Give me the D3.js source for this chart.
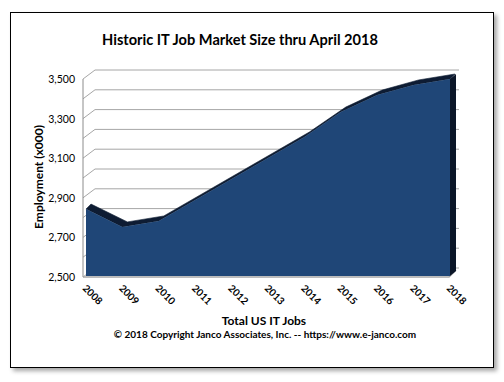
<!DOCTYPE html>
<html><head><meta charset="utf-8">
<script src="https://cdnjs.cloudflare.com/ajax/libs/d3/7.8.5/d3.min.js"></script>
<style>
html,body{margin:0;padding:0;background:#fff;}
svg{display:block;}
text{font-family:Lato,"Open Sans",sans-serif;fill:#000;}
</style></head><body>
<svg id="c" width="504" height="382"></svg>
<script>
const years = ["2008","2009","2010","2011","2012","2013","2014","2015","2016","2017","2018"];
const jobs = [2843, 2753, 2783, 2889, 2995, 3101, 3207, 3333, 3419, 3470, 3500];
const yTicks = [2500, 2700, 2900, 3100, 3300, 3500];
const gridValues = [2500, 2600, 2700, 2800, 2900, 3000, 3100, 3200, 3300, 3400, 3500];
const title = "Historic IT Job Market Size thru April 2018";
const yTitle = "Employment  (x000)";
const xTitle = "Total US IT Jobs";
const credit = "\u00A9 2018 Copyright Janco Associates, Inc. -- https://www.e-janco.com";

const svg = d3.select("#c");
const defs = svg.append("defs");
const f = defs.append("filter").attr("id","sh").attr("x","-5%").attr("y","-5%").attr("width","115%").attr("height","115%");
f.append("feDropShadow").attr("dx",3).attr("dy",3).attr("stdDeviation",2).attr("flood-color","#000").attr("flood-opacity",0.35);

svg.append("rect").attr("x",10.5).attr("y",12.5).attr("width",483).attr("height",355)
  .attr("fill","#fff").attr("stroke","#000").attr("stroke-width",1).attr("filter","url(#sh)");

// scales
const y = d3.scaleLinear().domain([2500,3500]).range([277,79]);
const x = d3.scalePoint().domain(years).range([86,450]);
const wallDX = 12, wallDY = -9;
const axX = 83;
const slabD = 5;

// back wall gridlines
const g = svg.append("g");
g.selectAll("line.grid").data(gridValues).join("line")
  .attr("x1", axX + wallDX).attr("x2", 459)
  .attr("y1", d => y(d) + wallDY).attr("y2", d => y(d) + wallDY)
  .attr("stroke","#a6a6a6").attr("stroke-width",1);
// side wall diagonals
g.selectAll("line.diag").data(gridValues).join("line")
  .attr("x1", axX).attr("y1", d => y(d))
  .attr("x2", axX + wallDX).attr("y2", d => y(d) + wallDY)
  .attr("stroke","#a6a6a6").attr("stroke-width",1);
// front axis vertical
g.append("line").attr("x1",axX).attr("x2",axX).attr("y1",y(3500)).attr("y2",y(2500))
  .attr("stroke","#8c8c8c").attr("stroke-width",1);
// floor front edge
g.append("path")
  .attr("d", `M${axX},${y(2500)}L${x("2018")-1},${y(2500)}L${x("2018")+6},${y(2500)-7}`)
  .attr("fill","none").attr("stroke","#a6a6a6").attr("stroke-width",1.5);

// area slab
const pts = years.map((yr,i) => [x(yr), y(jobs[i])]);
const bottom = y(2500) - 1;
// top surface
const topPoly = pts.concat(pts.slice().reverse().map(p => [p[0]+slabD, p[1]-slabD]));
svg.append("path").attr("d", d3.line()(topPoly) + "Z").attr("fill","#0e1c33").attr("stroke","#0e1c33").attr("stroke-width",0.6);
// right side face
const last = pts[pts.length-1];
svg.append("path").attr("d", d3.line()([[last[0], last[1]],[last[0]+slabD+1, last[1]-slabD],[last[0]+slabD+1, bottom-slabD],[last[0], bottom]]) + "Z")
  .attr("fill","#0b1628");
// front face
const area = d3.area().x(d => d[0]).y0(bottom).y1(d => d[1]);
svg.append("path").attr("d", area(pts)).attr("fill","#1f4677");

// y tick labels
svg.selectAll("text.yt").data(yTicks).join("text")
  .attr("x", 75).attr("y", d => y(d) + 4)
  .attr("text-anchor","end").attr("font-size","10.5px")
  .text(d => d3.format(",")(d));

// x tick labels
svg.selectAll("text.xt").data(years).join("text")
  .attr("transform", d => `translate(${x(d)-4},${289}) rotate(45)`)
  .attr("font-size","10px").attr("font-weight","bold")
  .text(d => d);

// titles
svg.append("text").attr("x",240).attr("y",45).attr("text-anchor","middle")
  .attr("font-size","14.6px").attr("font-weight","bold").text(title);
svg.append("text").attr("transform","translate(43,177) rotate(-90)").attr("text-anchor","middle")
  .attr("font-size","12px").attr("font-weight","bold").text(yTitle);
svg.append("text").attr("x",264).attr("y",325).attr("text-anchor","middle")
  .attr("font-size","12px").attr("font-weight","bold").text(xTitle);
svg.append("text").attr("x",265).attr("y",338).attr("text-anchor","middle")
  .attr("font-size","10px").attr("font-weight","bold").text(credit);
</script>
</body></html>
